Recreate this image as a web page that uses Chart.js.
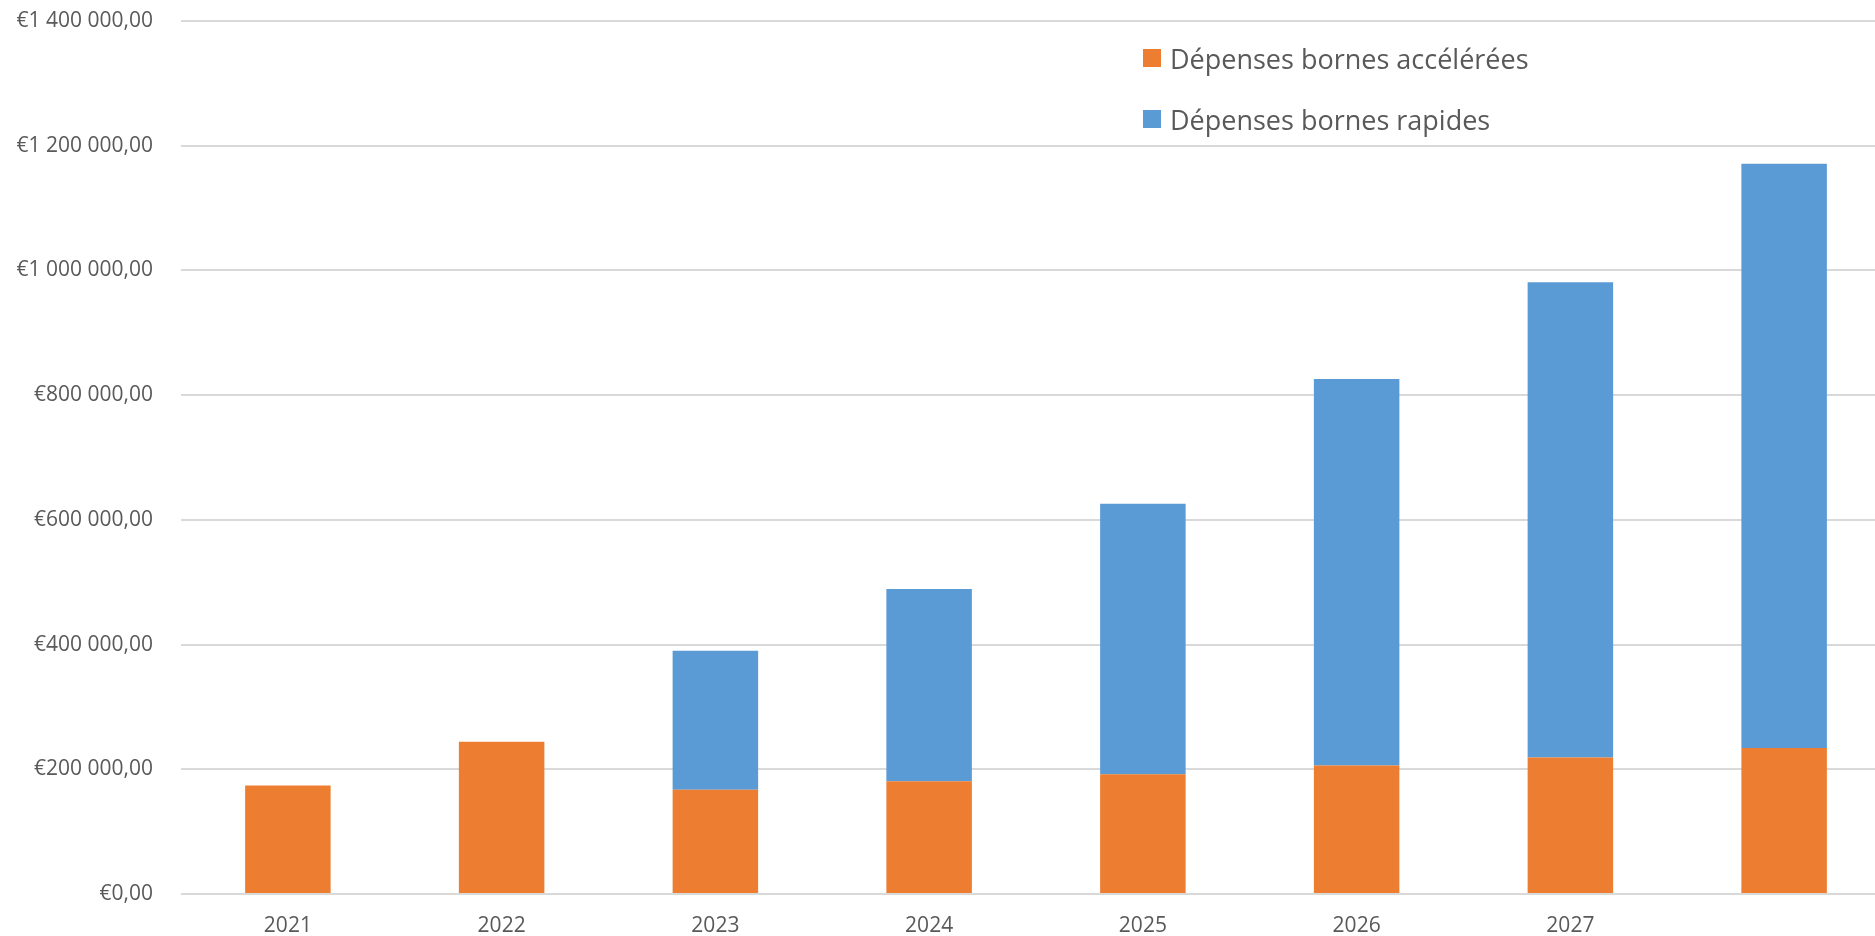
<!DOCTYPE html>
<html lang="fr">
<head>
<meta charset="utf-8">
<title>Dépenses bornes</title>
<script src="https://cdn.jsdelivr.net/npm/chart.js@4.4.1/dist/chart.umd.min.js"></script>
<style>
    html, body { margin: 0; padding: 0; background: #fff; overflow: hidden; }
    #wrap { position: relative; width: 1891px; height: 936px; }
    #legend { position: absolute; left: 1143px; top: 41px; font-family: "Open Sans", sans-serif; font-size: 27px; color: #595959; }
    .legend-item { display: flex; align-items: center; height: 34px; margin-bottom: 27px; }
    .legend-box { width: 18px; height: 18px; margin-right: 9px; }
</style>
</head>
<body>
<div id="wrap">
    <canvas id="chart" width="1891" height="936"></canvas>
    <div id="legend"></div>
</div>
<script>
const years = ['2021', '2022', '2023', '2024', '2025', '2026', '2027', ''];
const accelerees = [174000, 244000, 167000, 181000, 192000, 206000, 219000, 234000];
const rapides = [0, 0, 223000, 308000, 434000, 620000, 762000, 937000];
const yTickValues = [0, 200000, 400000, 600000, 800000, 1000000, 1200000, 1400000];
const yTickLabels = ['€0,00', '€200 000,00', '€400 000,00', '€600 000,00', '€800 000,00',
    '€1 000 000,00', '€1 200 000,00', '€1 400 000,00'];

const textColor = '#595959';
const gridColor = '#d9d9d9';

const ctx = document.getElementById('chart');
const chart = new Chart(ctx, {
    type: 'bar',
    data: {
        labels: years,
        datasets: [{
            label: 'Dépenses bornes accélérées',
            data: accelerees,
            backgroundColor: '#ED7D31',
            barPercentage: 0.4,
            categoryPercentage: 1
        }, {
            label: 'Dépenses bornes rapides',
            data: rapides,
            backgroundColor: '#5B9BD5',
            barPercentage: 0.4,
            categoryPercentage: 1
        }]
    },
    options: {
        responsive: false,
        animation: false,
        layout: { padding: 0 },
        plugins: {
            legend: { display: false },
            tooltip: { enabled: false }
        },
        scales: {
            x: {
                stacked: true,
                grid: { display: false, drawTicks: false },
                border: { display: false },
                ticks: {
                    color: textColor,
                    font: { family: '"Open Sans", sans-serif', size: 21 },
                    padding: 19,
                    maxRotation: 0,
                    autoSkip: false
                },
                afterFit: (scale) => {
                    scale.height = 42;
                    scale.paddingLeft = 0;
                    scale.paddingRight = 0;
                }
            },
            y: {
                stacked: true,
                min: 0,
                max: 1400000,
                afterBuildTicks: (scale) => {
                    scale.ticks = yTickValues.map(v => ({ value: v }));
                },
                grid: { color: gridColor, lineWidth: 2, drawTicks: false },
                border: { display: false },
                ticks: {
                    color: textColor,
                    font: { family: '"Open Sans", sans-serif', size: 21 },
                    padding: 28,
                    callback: (value, index) => yTickLabels[index]
                },
                afterFit: (scale) => {
                    // fixed axis width, and don't let the tick padding push the plot down
                    scale.width = 181;
                    scale.paddingTop = 21;
                    scale.paddingBottom = 0;
                }
            }
        }
    }
});

// legend built from the datasets, placed inside the plot like the original
const legendEl = document.getElementById('legend');
chart.data.datasets.forEach(ds => {
    const item = document.createElement('div');
    item.className = 'legend-item';
    item.innerHTML = `<span class="legend-box" style="background:${ds.backgroundColor}"></span><span>${ds.label}</span>`;
    legendEl.appendChild(item);
});
</script>
</body>
</html>
